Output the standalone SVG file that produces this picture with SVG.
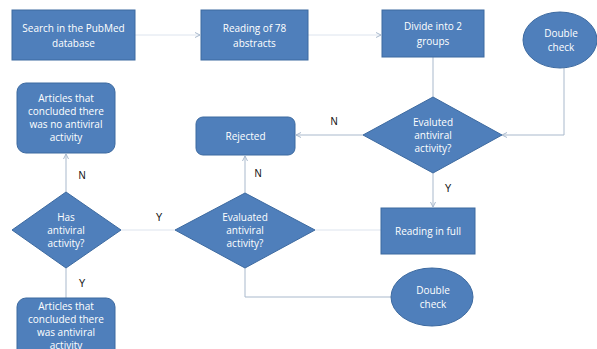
<svg xmlns="http://www.w3.org/2000/svg" width="597" height="349" viewBox="0 0 597 349">
<style>
.n{fill:#4f7fbb;stroke:#3d6aa0;stroke-width:1}
.t{fill:#ffffff;font-family:"Open Sans","Liberation Sans",sans-serif;font-size:10px;text-anchor:middle}
.l{fill:#111;font-family:"Liberation Sans",sans-serif;font-size:10px;text-anchor:middle}
.c{fill:none;stroke:#a9b9cc;stroke-width:1}
.f{fill:none;stroke:#dde4ee;stroke-width:1}
</style>
<defs>
<marker id="a" markerWidth="6" markerHeight="6" refX="5" refY="3" orient="auto" markerUnits="userSpaceOnUse">
<path d="M0,0.5 L5,3 L0,5.5" fill="none" stroke="#a9b9cc"/>
</marker>
</defs>
<rect width="597" height="349" fill="#ffffff"/>
<g id="connectors">
<line class="f" x1="135" y1="35" x2="200" y2="35" marker-end="url(#a)"/>
<line class="f" x1="308" y1="35" x2="381" y2="35" marker-end="url(#a)"/>
<line class="c" x1="433" y1="57" x2="433" y2="97"/>
<polyline class="c" points="564,68 564,135 502,135" marker-end="url(#a)"/>
<line class="c" x1="363" y1="135" x2="296" y2="135" marker-end="url(#a)"/>
<line class="c" x1="433" y1="173" x2="433" y2="207" marker-end="url(#a)"/>
<line class="c" x1="245" y1="193" x2="245" y2="156" marker-end="url(#a)"/>
<line class="f" x1="381" y1="230" x2="315" y2="230"/>
<polyline class="c" points="391,297 245,297 245,268"/>
<line class="f" x1="175" y1="230" x2="121" y2="230"/>
<line class="c" x1="66" y1="192" x2="66" y2="154" marker-end="url(#a)"/>
<line class="c" x1="66" y1="268" x2="66" y2="298"/>
</g>
<g id="labels">
<text class="l" x="334" y="125">N</text>
<text class="l" x="258" y="177">N</text>
<text class="l" x="448" y="192">Y</text>
<text class="l" x="159" y="221">Y</text>
<text class="l" x="82" y="179">N</text>
<text class="l" x="82" y="287">Y</text>
</g>
<g id="search">
<rect class="n" x="12" y="10" width="123" height="50"/>
<text class="t" x="73.5" y="32">Search in the PubMed</text>
<text class="t" x="73.5" y="47">database</text>
</g>
<g id="reading78">
<rect class="n" x="201" y="10" width="107" height="50"/>
<text class="t" x="254.5" y="32">Reading of 78</text>
<text class="t" x="254.5" y="47">abstracts</text>
</g>
<g id="divide">
<rect class="n" x="382" y="10" width="102" height="47"/>
<text class="t" x="433" y="30">Divide into 2</text>
<text class="t" x="433" y="45">groups</text>
</g>
<g id="double1">
<ellipse class="n" cx="560" cy="40" rx="37" ry="28"/>
<text class="t" x="561" y="37">Double</text>
<text class="t" x="561" y="51">check</text>
</g>
<g id="evaluted">
<polygon class="n" points="433,97 502,135 433,173 363,135"/>
<text class="t" x="433" y="126" font-size="9">Evaluted</text>
<text class="t" x="433" y="139" font-size="9">antiviral</text>
<text class="t" x="433" y="152" font-size="9">activity?</text>
</g>
<g id="rejected">
<rect class="n" x="196" y="117" width="99" height="38" rx="7"/>
<text class="t" x="245.5" y="139.5">Rejected</text>
</g>
<g id="readingfull">
<rect class="n" x="381" y="208" width="94" height="46"/>
<text class="t" x="428" y="235">Reading in full</text>
</g>
<g id="evaluated">
<polygon class="n" points="245,193 315,230 245,268 175,230"/>
<text class="t" x="245" y="221" font-size="9">Evaluated</text>
<text class="t" x="245" y="234" font-size="9">antiviral</text>
<text class="t" x="245" y="247" font-size="9">activity?</text>
</g>
<g id="double2">
<ellipse class="n" cx="432" cy="297" rx="41" ry="29"/>
<text class="t" x="433" y="294">Double</text>
<text class="t" x="433" y="308">check</text>
</g>
<g id="has">
<polygon class="n" points="66,192 121,230 66,268 12,230"/>
<text class="t" x="66" y="221" font-size="9">Has</text>
<text class="t" x="66" y="234" font-size="9">antiviral</text>
<text class="t" x="66" y="247" font-size="9">activity?</text>
</g>
<g id="noactivity">
<rect class="n" x="17" y="83" width="98" height="70" rx="9"/>
<text class="t" x="66" y="102">Articles that</text>
<text class="t" x="66" y="115">concluded there</text>
<text class="t" x="66" y="128">was no antiviral</text>
<text class="t" x="66" y="141">activity</text>
</g>
<g id="activity">
<rect class="n" x="17" y="298" width="98" height="65" rx="9"/>
<text class="t" x="66" y="310">Articles that</text>
<text class="t" x="66" y="323">concluded there</text>
<text class="t" x="66" y="336">was antiviral</text>
<text class="t" x="66" y="349">activity</text>
</g>
</svg>
